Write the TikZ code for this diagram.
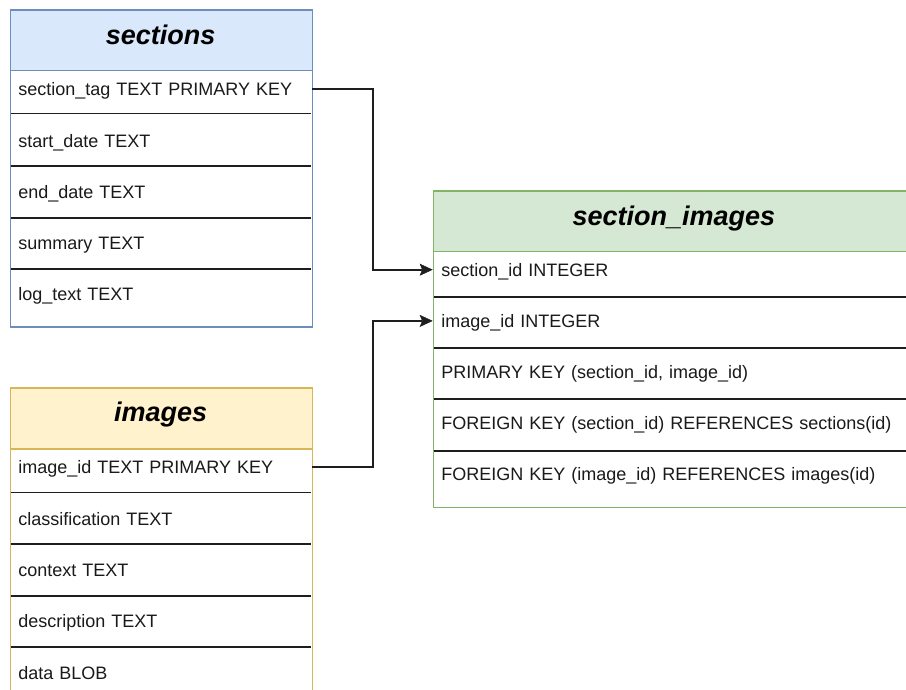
\documentclass[tikz,border=0pt]{standalone}
\usepackage{fontspec}
\setmainfont{Liberation Sans}
\usetikzlibrary{arrows.meta}

\definecolor{secfill}{HTML}{DAE8FC}
\definecolor{secline}{HTML}{6C8EBF}
\definecolor{imgfill}{HTML}{FFF2CC}
\definecolor{imgline}{HTML}{D6B656}
\definecolor{jnfill}{HTML}{D5E8D4}
\definecolor{jnline}{HTML}{82B366}
\definecolor{sepcol}{HTML}{1E1E1E}
\definecolor{txtcol}{HTML}{1A1A1A}

\tikzset{
  tablebox/.style={anchor=north west, inner sep=0pt, fill=white, line width=1.6pt},
  headbox/.style={anchor=north west, inner sep=0pt, line width=1.6pt},
  sepline/.style={draw=sepcol, line width=1.8pt},
  title/.style={anchor=base, inner sep=0pt, text=black,
    font=\fontsize{27}{32}\selectfont\bfseries\itshape},
  cell/.style={anchor=base west, inner xsep=8.5pt, inner ysep=0pt,
    text height=13pt, text depth=0pt, text width=#1, align=left,
    text=txtcol, font=\fontsize{18}{21}\selectfont},
  conn/.style={draw=sepcol, line width=1.7pt,
    -{Stealth[length=13pt,width=12pt,inset=2.5pt,line width=0.5pt]}}
}

\begin{document}
\begin{tikzpicture}[x=1pt,y=-1pt]
\useasboundingbox (0,0) rectangle (906,689);

% ---------- sections ----------
\node[tablebox, draw=secline, minimum width=302pt, minimum height=317pt] (sec) at (9.7,9.3) {};
\draw[sepline] (10.5,113.5) -- (310.9,113.5);
\draw[sepline] (10.5,166) -- (310.9,166);
\draw[sepline] (10.5,217.7) -- (310.9,217.7);
\draw[sepline] (10.5,269.3) -- (310.9,269.3);
\node[headbox, draw=secline, fill=secfill, minimum width=302pt, minimum height=60.4pt] (sechead) at (9.7,9.3) {};
\node[title] (sectitle) at (160.7,44.6) {sections};
\node[cell=285pt] (s1) at (9.7,95.2) {section\_tag TEXT PRIMARY KEY};
\node[cell=285pt] (s2) at (9.7,147.3) {start\_date TEXT};
\node[cell=285pt] (s3) at (9.7,198.3) {end\_date TEXT};
\node[cell=285pt] (s4) at (9.7,249.8) {summary TEXT};
\node[cell=285pt] (s5) at (9.7,300.9) {log\_text TEXT};

% ---------- images ----------
\node[tablebox, draw=imgline, minimum width=302pt, minimum height=340pt] (img) at (9.7,387.3) {};
\draw[sepline] (10.5,492.5) -- (310.9,492.5);
\draw[sepline] (10.5,544.3) -- (310.9,544.3);
\draw[sepline] (10.5,595.7) -- (310.9,595.7);
\draw[sepline] (10.5,647.3) -- (310.9,647.3);
\node[headbox, draw=imgline, fill=imgfill, minimum width=302pt, minimum height=60.8pt] (imghead) at (9.7,387.3) {};
\node[title] (imgtitle) at (160.7,421.8) {images};
\node[cell=285pt] (i1) at (9.7,473.3) {image\_id TEXT PRIMARY KEY};
\node[cell=285pt] (i2) at (9.7,525.1) {classification TEXT};
\node[cell=285pt] (i3) at (9.7,576.2) {context TEXT};
\node[cell=285pt] (i4) at (9.7,627.4) {description TEXT};
\node[cell=285pt] (i5) at (9.7,679.4) {data BLOB};

% ---------- section_images ----------
\node[tablebox, draw=jnline, minimum width=482pt, minimum height=316.7pt] (jn) at (432.7,190) {};
\draw[sepline] (433.5,296.7) -- (915,296.7);
\draw[sepline] (433.5,347.7) -- (915,347.7);
\draw[sepline] (433.5,399.3) -- (915,399.3);
\draw[sepline] (433.5,450.7) -- (915,450.7);
\node[headbox, draw=jnline, fill=jnfill, minimum width=482pt, minimum height=60.7pt] (jnhead) at (432.7,190) {};
\node[title] (jntitle) at (673.8,225.2) {section\_images};
\node[cell=465pt] (j1) at (432.7,276.2) {section\_id INTEGER};
\node[cell=465pt] (j2) at (432.7,327.4) {image\_id INTEGER};
\node[cell=465pt] (j3) at (432.7,378.4) {PRIMARY KEY (section\_id, image\_id)};
\node[cell=465pt] (j4) at (432.7,429.5) {FOREIGN KEY (section\_id) REFERENCES sections(id)};
\node[cell=465pt] (j5) at (432.7,480.8) {FOREIGN KEY (image\_id) REFERENCES images(id)};

% ---------- relations ----------
\draw[conn] (s1.east) -- ++(60.6,0) |- (j1.west);
\draw[conn] (i1.east) -- ++(60.6,0) |- (j2.west);
\end{tikzpicture}
\end{document}
